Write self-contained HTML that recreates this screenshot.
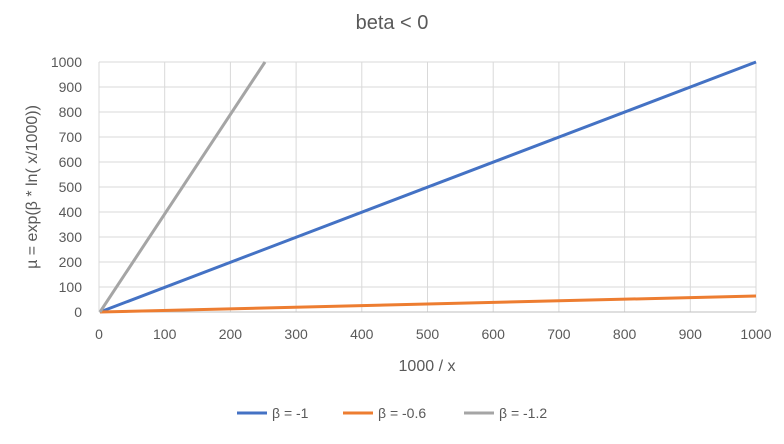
<!DOCTYPE html><html><head><style>body{margin:0;background:#fff}</style></head><body>
<svg width="784" height="439" xmlns="http://www.w3.org/2000/svg" font-family="Liberation Sans, sans-serif">
<rect width="784" height="439" fill="#fff"/>
<text x="392" y="29" text-anchor="middle" font-size="20" fill="#595959">beta &lt; 0</text>
<g stroke="#d9d9d9" stroke-width="1">
<line x1="99" y1="62" x2="756" y2="62"/><line x1="99" y1="87" x2="756" y2="87"/><line x1="99" y1="112" x2="756" y2="112"/><line x1="99" y1="137" x2="756" y2="137"/><line x1="99" y1="162" x2="756" y2="162"/><line x1="99" y1="187" x2="756" y2="187"/><line x1="99" y1="212" x2="756" y2="212"/><line x1="99" y1="237" x2="756" y2="237"/><line x1="99" y1="262" x2="756" y2="262"/><line x1="99" y1="287" x2="756" y2="287"/>
<line x1="164.7" y1="62" x2="164.7" y2="312"/><line x1="230.4" y1="62" x2="230.4" y2="312"/><line x1="296.1" y1="62" x2="296.1" y2="312"/><line x1="361.8" y1="62" x2="361.8" y2="312"/><line x1="427.5" y1="62" x2="427.5" y2="312"/><line x1="493.2" y1="62" x2="493.2" y2="312"/><line x1="558.9" y1="62" x2="558.9" y2="312"/><line x1="624.6" y1="62" x2="624.6" y2="312"/><line x1="690.3" y1="62" x2="690.3" y2="312"/><line x1="756" y1="62" x2="756" y2="312"/>
</g>
<line x1="99" y1="312" x2="756" y2="312" stroke="#bfbfbf" stroke-width="1"/>
<line x1="99" y1="62" x2="99" y2="312" stroke="#d9d9d9"/>
<g fill="#595959" font-size="14" text-anchor="end">
<text x="82" y="317">0</text><text x="82" y="292">100</text><text x="82" y="267">200</text><text x="82" y="242">300</text><text x="82" y="217">400</text><text x="82" y="192">500</text><text x="82" y="167">600</text><text x="82" y="142">700</text><text x="82" y="117">800</text><text x="82" y="92">900</text><text x="82" y="67">1000</text>
</g>
<g fill="#595959" font-size="14" text-anchor="middle">
<text x="99" y="339">0</text><text x="164.7" y="339">100</text><text x="230.4" y="339">200</text><text x="296.1" y="339">300</text><text x="361.8" y="339">400</text><text x="427.5" y="339">500</text><text x="493.2" y="339">600</text><text x="558.9" y="339">700</text><text x="624.6" y="339">800</text><text x="690.3" y="339">900</text><text x="756" y="339">1000</text>
</g>
<text x="427" y="371" text-anchor="middle" font-size="16" fill="#595959">1000 / x</text>
<text transform="translate(37,187) rotate(-90)" text-anchor="middle" font-size="16" fill="#595959">µ = exp(β * ln( x/1000))</text>
<polyline points="100,312 756,62" stroke="#4472c4" stroke-width="3" fill="none"/>
<polyline points="100,312 756,296" stroke="#ed7d31" stroke-width="3" fill="none"/>
<polyline points="100,312 265,62" stroke="#a5a5a5" stroke-width="3" fill="none"/>
<g font-size="14" fill="#595959">
<line x1="237" y1="413" x2="267" y2="413" stroke="#4472c4" stroke-width="3"/><text x="272" y="418">β = -1</text>
<line x1="343" y1="413" x2="373" y2="413" stroke="#ed7d31" stroke-width="3"/><text x="378" y="418">β = -0.6</text>
<line x1="464" y1="413" x2="494" y2="413" stroke="#a5a5a5" stroke-width="3"/><text x="499" y="418">β = -1.2</text>
</g>
</svg>
</body></html>
